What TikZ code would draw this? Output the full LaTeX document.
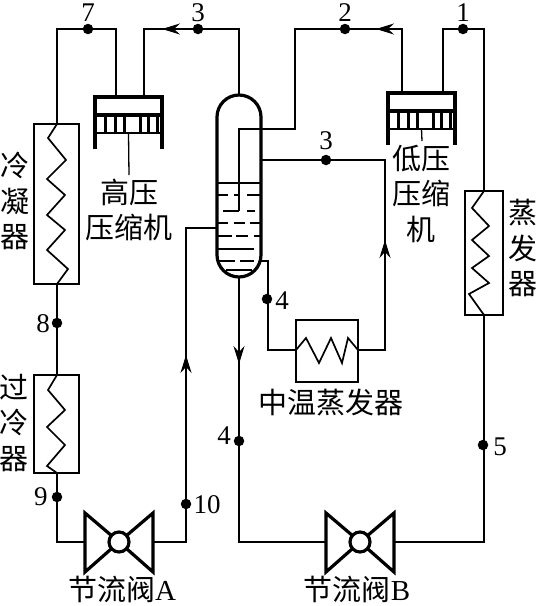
\documentclass[tikz,border=0pt]{standalone}
\usepackage{fontspec}
\setmainfont{Liberation Serif}
\newfontfamily\cjk{Noto Sans CJK SC}[Scale=1]
\usetikzlibrary{arrows.meta}
\tikzset{
  x=1pt,y=-1pt,
  pipe/.style={line width=1.3pt,line join=miter},
  coil/.style={line width=1.7pt,line join=miter},
  thick line/.style={line width=3.2pt},
  box/.style={draw,line width=1.3pt,inner sep=0pt,outer sep=0pt},
  pt/.style={circle,fill=black,inner sep=0pt,minimum size=10.5pt,outer sep=0pt},
  num/.style={font=\fontsize{27}{27}\selectfont,inner sep=0pt},
  zh/.style={font=\cjk\fontsize{29}{35.5}\selectfont,inner sep=0pt,align=center},
  flow/.style={line width=1.3pt,-{Stealth[length=18pt,width=11pt,inset=6pt]}},
}
\newcommand{\compressor}[3]{% x-left, y-top, name
  \begin{scope}[shift={(#1,#2)}]
    \draw[thick line,line cap=butt] (0,52) -- (0,0) -- (67,0) -- (67,52);
    \draw[thick line] (0,18) -- (67,18);
    \draw[line width=2.4pt] (0,36) -- (67,36);
    \foreach \r in {10,20,29,45,53,62}{\draw[line width=3pt] (\r,18) -- (\r,36);}
    \coordinate (#3) at (33.5,36);
  \end{scope}
}
\newcommand{\valve}[2]{% centre x, name
  \coordinate (#2) at (#1,542);
  \coordinate (#2L) at (#1-34,542);
  \coordinate (#2R) at (#1+34,542);
  \draw[thick line,line join=miter] (#1,542) -- (#1-34,513) -- (#1-34,572) -- cycle;
  \draw[thick line,line join=miter] (#1,542) -- (#1+34,513) -- (#1+34,572) -- cycle;
  \draw[thick line,fill=white] (#1,542) circle (10);
}
\begin{document}
\begin{tikzpicture}
\useasboundingbox (0,0) rectangle (539,606);

% boxes
\node[box,minimum width=45pt,minimum height=160pt] (cond) at (56.5,204) {};
\node[box,minimum width=45pt,minimum height=98pt] (sub) at (56.5,424) {};
\node[box,minimum width=38pt,minimum height=124pt] (evap) at (484,253) {};
\node[box,minimum width=62pt,minimum height=62pt] (mid) at (327,351) {};

% coils
\draw[coil] (57,124) -- (48,138) -- (66,160) -- (47,179) -- (65,195) -- (47,215) -- (65,230) -- (47,250) -- (68,269) -- (57,284);
\draw[coil] (57,375) -- (48,390) -- (65,410) -- (47,427) -- (65,445) -- (47,466) -- (57,473);
\draw[coil] (484,191) -- (472,208) -- (489,226) -- (472,240) -- (489,256) -- (472,268) -- (489,283) -- (469,294) -- (484,315);
\draw[coil] (296,350) -- (306,338) -- (319,363) -- (331,338) -- (342,363) -- (348,338) -- (358,350);

% compressors
\compressor{95}{97}{hpRod}
\compressor{388}{93}{lpRod}
\coordinate (hpEnd) at (129,175);
\coordinate (lpEnd) at (422,141);
\draw[pipe] (hpRod) -- (hpEnd);
\draw[pipe] (lpRod) -- (lpEnd);

% separator
\draw[thick line] (217,117) arc[start angle=180,end angle=360,radius=22] -- (261,255) arc[start angle=0,end angle=180,radius=22] -- cycle;
\coordinate (sepTop) at (239,95);
\coordinate (sepBot) at (239,277);
\coordinate (sepL) at (217,228);
\coordinate (sepRa) at (261,160);
\coordinate (sepRb) at (261,261);
\begin{scope}[line width=1.1pt]
  \draw (217,183) -- (261,183);
  \draw (218,195) -- (228,195) (234,195) -- (239,195) (247,195) -- (260,195);
  \draw (218,223) -- (228,223) (234,223) -- (245,223) (250,223) -- (260,223);
  \draw (218,236) -- (232,236) (236,236) -- (248,236) (254,236) -- (260,236);
  \draw (218,249) -- (254,249);
  \draw (218,261) -- (235,261) (240,261) -- (254,261);
\end{scope}
\draw[line width=2.6pt] (226,270) -- (252,270);
\draw[line width=2.2pt] (223,211) -- (239,211) (247,211) -- (255,211);

% valves
\valve{119}{va}
\valve{360}{vb}

% junction corners
\coordinate (c7a) at (57,29);
\coordinate (c7b) at (116,29);
\coordinate (hpOut) at (116,97);
\coordinate (c3b) at (144,29);
\coordinate (hpIn) at (144,97);
\coordinate (c3a) at (239,29);
\coordinate (c2a) at (295,29);
\coordinate (c2b) at (295,129);
\coordinate (c2c) at (239,129);
\coordinate (c2d) at (239,211);
\coordinate (c2e) at (402,29);
\coordinate (lpOut) at (402,93);
\coordinate (c1a) at (443,29);
\coordinate (lpIn) at (443,93);
\coordinate (c1b) at (484,29);
\coordinate (c5) at (484,542);
\coordinate (c4a) at (239,542);
\coordinate (c10a) at (186,542);
\coordinate (c10b) at (186,228);
\coordinate (c9a) at (57,542);
\coordinate (c3m) at (385,160);
\coordinate (c3n) at (385,350);
\coordinate (c4b) at (268,261);
\coordinate (c4c) at (268,350);
\coordinate (midL) at (296,350);
\coordinate (midR) at (358,350);
\coordinate (a1) at (394,29);
\coordinate (a2) at (376,29);
\coordinate (a3) at (180,29);
\coordinate (a4) at (162,29);
\coordinate (a5) at (385,258);
\coordinate (a6) at (385,240);
\coordinate (a7) at (186,373);
\coordinate (a8) at (186,355);
\coordinate (a9) at (239,346);
\coordinate (a10) at (239,364);

% pipes
\draw[pipe] (cond.north -| c7a) -- (c7a) -- (c7b) -- (hpOut);
\draw[pipe] (hpIn) -- (c3b) -- (c3a) -- (sepTop);
\draw[pipe] (cond.south -| c7a) -- (sub.north -| c7a);
\draw[pipe] (sub.south -| c7a) -- (c9a) -- (vaL);
\draw[pipe] (vaR) -- (c10a) -- (c10b) -- (sepL);
\draw[pipe] (sepBot) -- (c4a) -- (vbL);
\draw[pipe] (vbR) -- (c5) -- (evap.south);
\draw[pipe] (evap.north) -- (c1b) -- (c1a) -- (lpIn);
\draw[pipe] (lpOut) -- (c2e) -- (c2a) -- (c2b) -- (c2c) -- (c2d);
\draw[pipe] (sepRa) -- (c3m) -- (c3n) -- (midR);
\draw[pipe] (sepRb) -- (c4b) -- (c4c) -- (midL);

% flow arrows
\draw[flow] (a1) -- (a2);
\draw[flow] (a3) -- (a4);
\draw[flow] (a5) -- (a6);
\draw[flow] (a7) -- (a8);
\draw[flow] (a9) -- (a10);

% state points
\node[pt] (p7) at (88,29) {};
\node[pt] (p3a) at (198,29) {};
\node[pt] (p2) at (345,29) {};
\node[pt] (p1) at (463,29) {};
\node[pt] (p3b) at (326,160) {};
\node[pt] (p4a) at (267,299) {};
\node[pt] (p4b) at (239,441) {};
\node[pt] (p5) at (483,445) {};
\node[pt] (p8) at (57,323) {};
\node[pt] (p9) at (57,497) {};
\node[pt] (p10) at (186,504) {};

\node[num] (n7) at (88,13) {7};
\node[num] (n3a) at (198,13) {3};
\node[num] (n2) at (345,13) {2};
\node[num] (n1) at (463,13) {1};
\node[num] (n3b) at (326,141) {3};
\node[num] (n4a) at (282,301) {4};
\node[num] (n4b) at (224,436) {4};
\node[num] (n5) at (500,447) {5};
\node[num] (n8) at (43,324) {8};
\node[num] (n9) at (41,497) {9};
\node[num] (n10) at (207,505) {10};

% labels
\node[zh] (lcond) at (15,201) {冷\\凝\\器};
\node[zh] (lsub) at (14,423) {过\\冷\\器};
\node[zh] (lhp) at (129,210) {高压\\压缩机};
\node[zh] (llp) at (421,194) {低压\\压缩\\机};
\node[zh] (levap) at (523,248) {蒸\\发\\器};
\node[zh] (lmid) at (331,403) {中温蒸发器};
\node[zh] (lva) at (122,589) {节流阀{\rmfamily A}};
\node[zh] (lvb) at (357,589) {节流阀{\rmfamily B}};
\end{tikzpicture}
\end{document}
